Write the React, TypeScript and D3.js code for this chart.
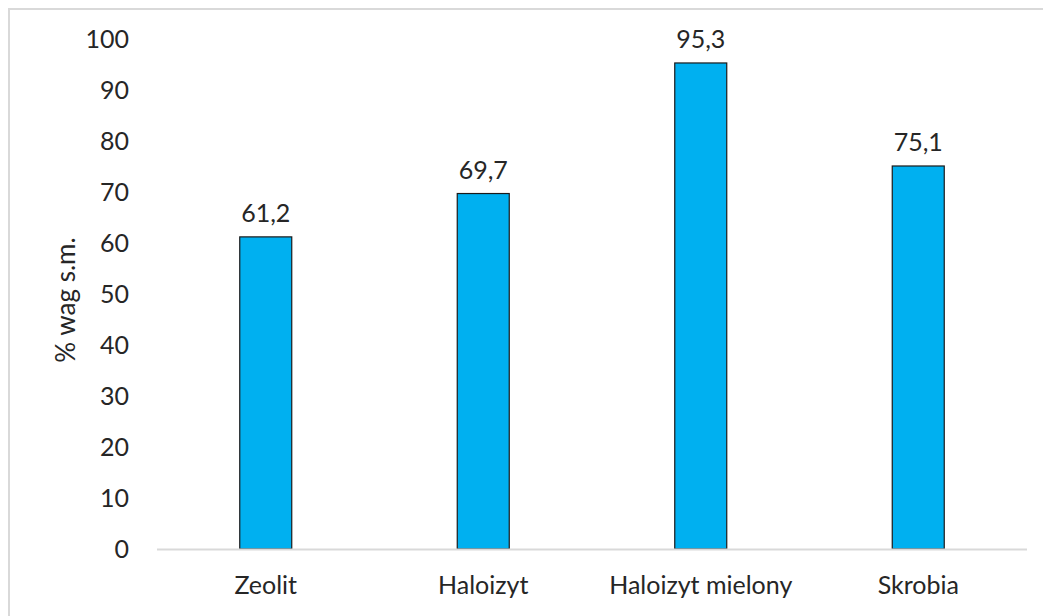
import React from "react";
import * as d3 from "d3";

const categories = ["Zeolit", "Haloizyt", "Haloizyt mielony", "Skrobia"];
const values = [61.2, 69.7, 95.3, 75.1];
const yTicks = [0, 10, 20, 30, 40, 50, 60, 70, 80, 90, 100];
const yTitle = "% wag s.m.";

const W = 1043;
const H = 616;
const FONT = "Lato, 'Open Sans', sans-serif";

export default function App() {
  const x = d3.scaleBand<string>().domain(categories).range([157, 1027]).paddingInner(0).paddingOuter(0);
  const y = d3.scaleLinear().domain([0, 100]).range([549, 39]);
  const bw = 52;
  const fmt = (v: number) => v.toFixed(1).replace(".", ",");
  return (
    <svg width={W} height={H} style={{ position: "absolute", left: 0, top: 0 }}>
      <rect x={0} y={0} width={W} height={H} fill="#fff" />
      <rect x={9} y={9} width={W + 20} height={H + 20} fill="none" stroke="#d9d9d9" strokeWidth={2} />
      {yTicks.map((t) => (
        <text key={t} x={129} y={y(t)} dy="0.36em" textAnchor="end" fontFamily={FONT} fontSize={25} fill="#262626">
          {t}
        </text>
      ))}
      <text transform={`translate(66,${y(50) + 6}) rotate(-90)`} textAnchor="middle" dy="0.35em" fontFamily={FONT} fontSize={26} fill="#262626">
        {yTitle}
      </text>
      {categories.map((c, i) => {
        const cx = x(c)! + x.bandwidth() / 2;
        return (
          <g key={c}>
            <rect x={cx - bw / 2} y={y(values[i])} width={bw} height={y(0) - y(values[i])} fill="#00b0f0" stroke="#1a1a1a" strokeWidth={1.2} />
            <text x={cx} y={y(values[i]) - 15} textAnchor="middle" fontFamily={FONT} fontSize={25} fill="#262626">
              {fmt(values[i])}
            </text>
            <text x={cx} y={594} textAnchor="middle" fontFamily={FONT} fontSize={25} fill="#262626">
              {c}
            </text>
          </g>
        );
      })}
      <line x1={157} x2={1027} y1={y(0) + 0.5} y2={y(0) + 0.5} stroke="#d9d9d9" strokeWidth={2} />
    </svg>
  );
}
